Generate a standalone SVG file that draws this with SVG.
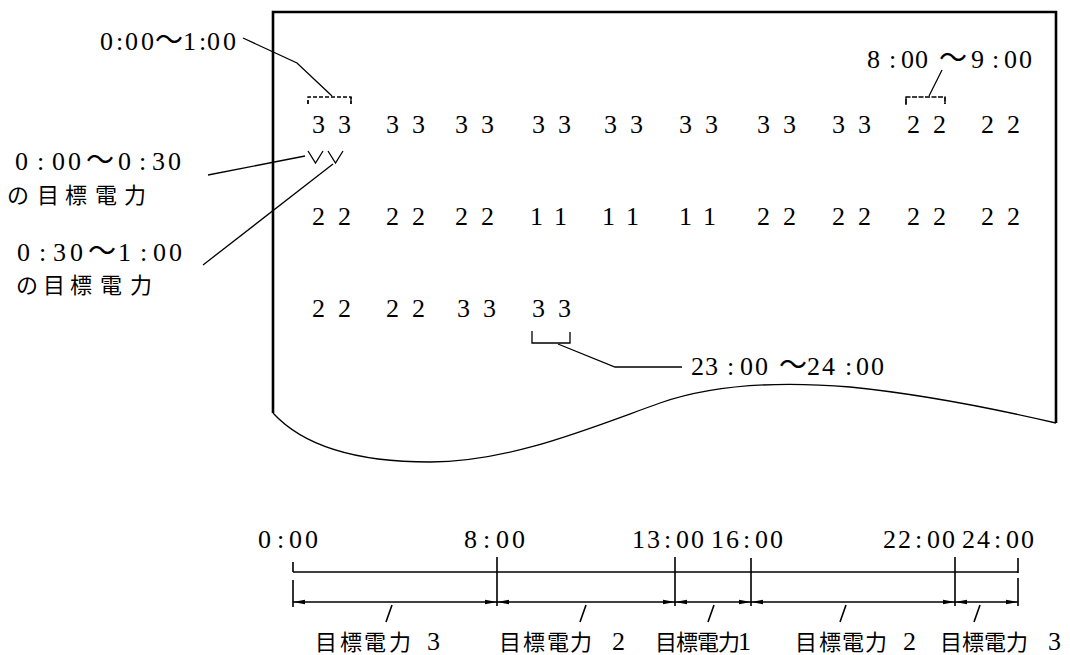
<svg xmlns="http://www.w3.org/2000/svg" width="1070" height="655" viewBox="0 0 1070 655">
<defs>
<style>
.num{font-family:"Liberation Serif","Times New Roman","DejaVu Serif",serif;font-size:26px;fill:#000}
.jp{font-family:"Noto Sans CJK JP",sans-serif;font-size:22px;fill:#000}
.til{font-family:"Noto Sans CJK JP",sans-serif;font-size:28px;fill:#000}
.ln{stroke:#000;stroke-width:1.3;fill:none}
.thick{stroke:#000;stroke-width:2.6;fill:none}
.dim{stroke:#000;stroke-width:1.6;fill:none}
</style>
<marker id="ah" viewBox="0 0 12 6" refX="12" refY="3" markerWidth="12" markerHeight="6" orient="auto-start-reverse" markerUnits="userSpaceOnUse">
<path d="M0,0.8 L12,3 L0,5.2 z" fill="#000"/>
</marker>
</defs>
<rect width="1070" height="655" fill="#fff"/>

<g id="paper">
<path class="thick" d="M273,413 L273,12 L1056,12 L1056,423"/>
<path class="ln" stroke-width="1.8" d="M273,413 C305,448 360,462 430,462 C510,462 590,428 660,403 C720,382 790,382 850,387 C930,395 1000,410 1056,423"/>
</g>

<g id="row1">
<text class="num" y="133"><tspan x="312 338">33</tspan><tspan x="386 412">33</tspan><tspan x="455 481">33</tspan><tspan x="532 558">33</tspan><tspan x="604 630">33</tspan><tspan x="679 705">33</tspan><tspan x="757 783">33</tspan><tspan x="832 858">33</tspan><tspan x="907 933">22</tspan><tspan x="981 1007">22</tspan></text>
</g>
<g id="row2">
<text class="num" y="225"><tspan x="312 338">22</tspan><tspan x="386 412">22</tspan><tspan x="455 481">22</tspan><tspan x="530 554">11</tspan><tspan x="602 626">11</tspan><tspan x="679 703">11</tspan><tspan x="757 783">22</tspan><tspan x="832 858">22</tspan><tspan x="907 933">22</tspan><tspan x="981 1007">22</tspan></text>
</g>
<g id="row3">
<text class="num" y="317"><tspan x="312 338">22</tspan><tspan x="386 412">22</tspan><tspan x="457 483">33</tspan><tspan x="532 558">33</tspan></text>
</g>

<g id="marks">
<path class="ln" stroke-dasharray="4,2" d="M308,104 L308,97 L351,97 L351,104"/>
<path class="ln" d="M308,100 L308,104 M351,97 L351,104"/>
<path class="ln" stroke-dasharray="5,1.5" d="M906,104 L906,97 L945,97 L945,104"/>
<path class="ln" d="M906,97 L906,105 M945,97 L945,104"/>
<path class="ln" stroke-width="1.5" d="M532,331 L532,343 L570,343 L570,332"/>
<polyline class="ln" points="308,151 315.5,163 323,151"/>
<polyline class="ln" points="328,151 335.5,163 343,151"/>
</g>

<g id="label-0000-0100">
<text class="num" y="50"><tspan x="100 116 125 141">0:00</tspan><tspan class="til" x="155">～</tspan><tspan x="183 199 207 223">1:00</tspan></text>
</g>
<g id="label-0000-0030">
<text class="num" y="170"><tspan x="15 37 52 68">0:00</tspan><tspan class="til" font-size="30px" x="86">～</tspan><tspan x="118 139 152 168">0:30</tspan></text>
<text class="jp" font-size="21px" y="203"><tspan x="7 37 65 95 124">の目標電力</tspan></text>
</g>
<g id="label-0030-0100">
<text class="num" y="261"><tspan x="17 39 53 70">0:30</tspan><tspan class="til" font-size="26px" x="88">～</tspan><tspan x="118 140 153 169">1:00</tspan></text>
<text class="jp" font-size="21px" y="293"><tspan x="16 43 70 100 130">の目標電力</tspan></text>
</g>
<g id="label-0800-0900">
<text class="num" y="68"><tspan x="867 889 901 915">8:00</tspan><tspan class="til" x="939">～</tspan><tspan x="971 992 1004 1019">9:00</tspan></text>
</g>
<g id="label-2300-2400">
<text class="num" y="375"><tspan x="691 705 727 740 755">23:00</tspan><tspan class="til" font-size="25px" x="779">～</tspan><tspan x="807 822 845 856 871">24:00</tspan></text>
</g>

<g id="connectors">
<polyline class="ln" points="243,38 297,63 332,96"/>
<line class="ln" x1="942" y1="70" x2="929" y2="96"/>
<polyline class="ln" points="558,344 615,367 682,367"/>
<line class="ln" x1="208" y1="175" x2="305" y2="156"/>
<line class="ln" x1="203" y1="265" x2="333" y2="164"/>
</g>

<g id="timeline">
<text class="num" y="548"><tspan x="258 277 289 305">0:00</tspan></text>
<text class="num" y="548"><tspan x="464 483 496 512">8:00</tspan></text>
<text class="num" y="548"><tspan x="632 647 664 676 691">13:00</tspan></text>
<text class="num" y="548"><tspan x="711 726 743 755 770">16:00</tspan></text>
<text class="num" y="548"><tspan x="883 898 915 927 942">22:00</tspan></text>
<text class="num" y="548"><tspan x="962 977 994 1006 1021">24:00</tspan></text>
<line class="dim" x1="293" y1="572" x2="1018" y2="572"/>
<path class="dim" d="M293,562 L293,572 M293,580 L293,607 M497,557 L497,606 M675,557 L675,606 M751,558 L751,606 M955,557 L955,606 M1018,558 L1018,573 M1018,578 L1018,606"/>
<line class="ln" x1="293" y1="602" x2="497" y2="602" marker-start="url(#ah)" marker-end="url(#ah)"/>
<line class="ln" x1="497" y1="602" x2="675" y2="602" marker-start="url(#ah)" marker-end="url(#ah)"/>
<line class="ln" x1="675" y1="602" x2="751" y2="602" marker-start="url(#ah)" marker-end="url(#ah)"/>
<line class="ln" x1="751" y1="602" x2="955" y2="602" marker-start="url(#ah)" marker-end="url(#ah)"/>
<line class="ln" x1="955" y1="602" x2="1018" y2="602" marker-start="url(#ah)" marker-end="url(#ah)"/>
<path class="dim" d="M392,605 L386,622 M586,605 L580,622 M714,605 L708,622 M846,605 L840,622 M980,605 L974,622"/>
</g>

<g id="legend">
<text y="650"><tspan class="jp" font-size="23px" x="315 340 364 389">目標電力</tspan><tspan class="num" x="427">3</tspan></text>
<text y="650"><tspan class="jp" font-size="23px" x="499 523 547 570">目標電力</tspan><tspan class="num" x="612">2</tspan></text>
<text y="650"><tspan class="jp" x="655 676 697 718">目標電力</tspan><tspan class="num" x="738">1</tspan></text>
<text y="650"><tspan class="jp" font-size="23px" x="795 819 842 865">目標電力</tspan><tspan class="num" x="903">2</tspan></text>
<text y="650"><tspan class="jp" font-size="22px" x="940 962 984 1006">目標電力</tspan><tspan class="num" x="1048">3</tspan></text>
</g>
</svg>
